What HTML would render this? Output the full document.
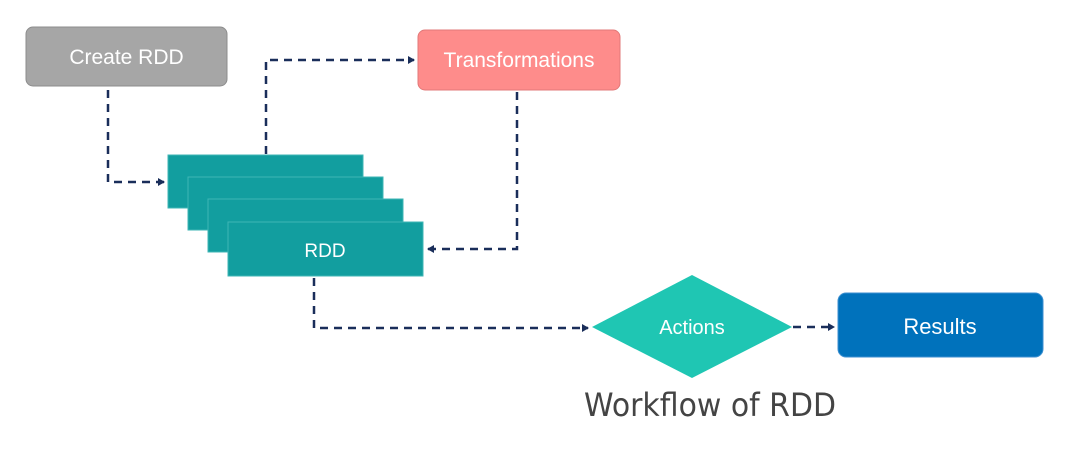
<!DOCTYPE html>
<html><head><style>
body{margin:0;background:#fff;width:1086px;height:444px;overflow:hidden}
</style></head><body>
<svg width="1086" height="444" xmlns="http://www.w3.org/2000/svg" font-family="Liberation Sans, sans-serif">
<defs><marker id="a" markerWidth="8" markerHeight="8" refX="6" refY="4" orient="auto" markerUnits="userSpaceOnUse"><path d="M0,0 L7,4 L0,8 z" fill="#1a2e5a"/></marker></defs>
<rect x="26" y="27" width="201" height="59" rx="7" fill="#a6a6a6" stroke="#8c8c8c"/>
<text x="126.5" y="64" font-size="21" fill="#fff" text-anchor="middle">Create RDD</text>
<rect x="418" y="30" width="202" height="60" rx="7" fill="#fe8c8b" stroke="#e27878"/>
<text x="519" y="67" font-size="21" fill="#fff" text-anchor="middle">Transformations</text>
<g fill="#129e9f" stroke="#3fb6b6" stroke-width="1">
<rect x="168" y="155" width="195" height="53"/>
<rect x="188" y="177" width="195" height="53"/>
<rect x="208" y="199" width="195" height="53"/>
<rect x="228" y="222" width="195" height="54"/>
</g>
<text x="325" y="257" font-size="19" fill="#fff" text-anchor="middle">RDD</text>
<g fill="none" stroke="#1a2e5a" stroke-width="2.5" stroke-dasharray="8,6">
<path d="M108 90 V182 H164" marker-end="url(#a)"/>
<path d="M266 154 V60 H414" marker-end="url(#a)"/>
<path d="M517 92 V249 H428" marker-end="url(#a)"/>
<path d="M314 278 V328 H588" marker-end="url(#a)"/>
<path d="M793 327 H834" marker-end="url(#a)"/>
</g>
<polygon points="592,327 692,275 792,327 692,378" fill="#1fc6b3"/>
<text x="692" y="334" font-size="20" fill="#fff" text-anchor="middle">Actions</text>
<rect x="838" y="293" width="205" height="64" rx="8" fill="#0072bc" stroke="#3c8fd0"/>
<text x="940" y="334" font-size="22" fill="#fff" text-anchor="middle">Results</text>
<text x="710" y="416" font-size="32" fill="#444" text-anchor="middle" font-family="DejaVu Sans, sans-serif" textLength="252" lengthAdjust="spacingAndGlyphs">Workflow of RDD</text>
</svg>
</body></html>
